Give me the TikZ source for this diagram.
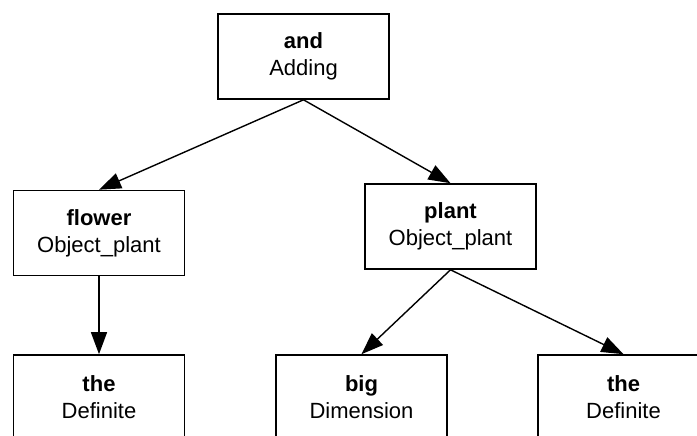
\documentclass[tikz,border=0pt]{standalone}
\usepackage{fontspec}
\setmainfont{Liberation Sans}
\usetikzlibrary{arrows.meta}
\begin{document}
\begin{tikzpicture}[x=1pt,y=-1pt,
  box/.style={draw, line width=1.6pt, minimum width=171pt, minimum height=85pt,
    inner sep=0pt, align=center, font=\fontsize{22}{27}\selectfont},
  link/.style={line width=1.4pt, -{Triangle[length=22pt,width=16pt]}}]
\useasboundingbox (0,0) rectangle (697,436);
\clip (0,0) rectangle (697,436);
% word nodes
\node[box] (and)    at (303.5,56.5)  {\textbf{and}\\Adding};
\node[box] (flower) at (99,233)      {\textbf{flower}\\Object\_plant};
\node[box] (plant)  at (450.5,226.5) {\textbf{plant}\\Object\_plant};
\node[box] (the1)   at (99,397.5)    {\textbf{the}\\Definite};
\node[box] (big)    at (361.5,397.5) {\textbf{big}\\Dimension};
\node[box] (the2)   at (623.5,397.5) {\textbf{the}\\Definite};
% dependencies
\draw[link] (and.south)    -- (flower.north);
\draw[link] (and.south)    -- (plant.north);
\draw[link] (flower.south) -- (the1.north);
\draw[link] (plant.south)  -- (big.north);
\draw[link] (plant.south)  -- (the2.north);
\end{tikzpicture}
\end{document}
